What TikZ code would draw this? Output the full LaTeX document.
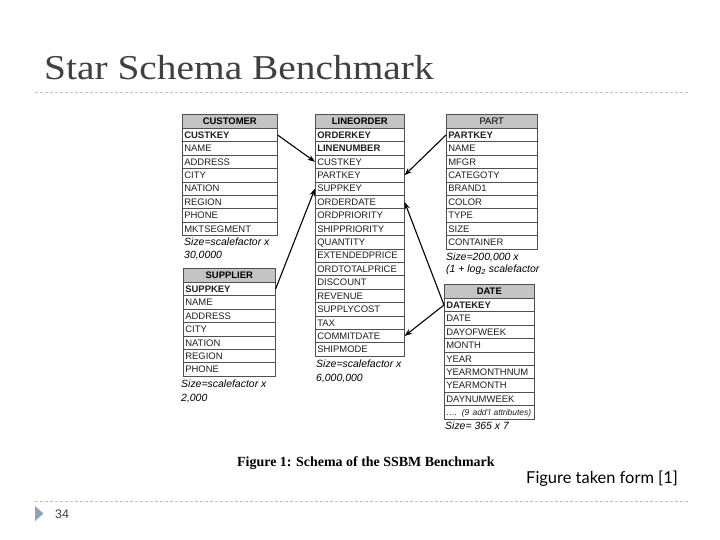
\documentclass[tikz,border=0pt]{standalone}
\usepackage{fontspec}
\setmainfont{Liberation Sans}
\newfontfamily\serifT{Liberation Serif}
\newfontfamily\gill{Lato}
\usetikzlibrary{arrows.meta}
\definecolor{titlegray}{HTML}{404040}
\definecolor{rulegray}{HTML}{C0C0C0}
\definecolor{hdrgray}{HTML}{C4C4C4}
\definecolor{bulletblue}{HTML}{8EA2BC}
\definecolor{boxline}{HTML}{505050}
\definecolor{txtgray}{HTML}{202020}

\tikzset{
 hdr/.style={draw=boxline, fill=hdrgray, line width=0.6bp, anchor=north west,
   minimum height=14bp, inner xsep=2bp, inner ysep=0pt, text height=6.8bp, text depth=0pt,
   align=center, font=\fontsize{9.5}{11}\selectfont\bfseries},
 rowbox/.style={draw=boxline, fill=white, line width=0.6bp, anchor=north west,
   minimum height=13.4bp, inner xsep=2bp, inner ysep=0pt, text height=6.8bp, text depth=0pt,
   align=left, text=txtgray, font=\fontsize{9.5}{11}\selectfont},
 sizetxt/.style={anchor=base west, inner sep=0pt, align=left, font=\fontsize{10.5}{14}\selectfont\itshape},
 fk/.style={-{Stealth[length=7.5bp,width=5.5bp]}, line width=1.1bp, black},
 sliderule/.style={draw=rulegray, dash pattern=on 3bp off 2bp, line width=0.8bp},
}

\newcommand{\dbtable}[6]{%
  \pgfmathsetmacro{\tw}{#4-4}%
  \node[hdr, minimum width=#4bp, text width=\tw bp] (#1-head) at (#2,#3) {#5};
  \foreach \k/\t [count=\i from 0] in {#6}{%
    \node[rowbox, minimum width=#4bp, text width=\tw bp] (#1-\k) at (#2,{#3+14+\i*13.4}) {\t};
  }%
}

\begin{document}
\begin{tikzpicture}[x=1bp, y=-1bp]
\useasboundingbox (0,0) rectangle (720,540);
\fill[white] (0,0) rectangle (720,540);

% title and rules
\node[anchor=base west, inner sep=0pt, text=titlegray] (title) at (44,80)
  {\serifT\fontsize{35}{40}\selectfont\scalebox{1.13}[1]{Star Schema Benchmark}};
\coordinate (r1a) at (35,92); \coordinate (r1b) at (688,92);
\draw[sliderule] (r1a) -- (r1b);
\coordinate (r2a) at (35,501); \coordinate (r2b) at (688,501);
\draw[sliderule] (r2a) -- (r2b);

% tables
\dbtable{cu}{182}{114}{95}{CUSTOMER}{custkey/\textbf{CUSTKEY}, name/NAME, address/ADDRESS, city/CITY, nation/NATION, region/REGION, phone/PHONE, mktsegment/MKTSEGMENT}
\dbtable{lo}{315}{114}{89}{LINEORDER}{orderkey/\textbf{ORDERKEY}, linenumber/\textbf{LINENUMBER}, custkey/CUSTKEY, partkey/PARTKEY, suppkey/SUPPKEY, orderdate/ORDERDATE, ordpriority/ORDPRIORITY, shippriority/SHIPPRIORITY, quantity/QUANTITY, extendedprice/EXTENDEDPRICE, ordtotalprice/ORDTOTALPRICE, discount/DISCOUNT, revenue/REVENUE, supplycost/SUPPLYCOST, tax/TAX, commitdate/COMMITDATE, shipmode/SHIPMODE}
\dbtable{pa}{446}{114}{91}{\mdseries PART}{partkey/\textbf{PARTKEY}, name/NAME, mfgr/MFGR, categoty/CATEGOTY, brand1/BRAND1, color/COLOR, type/TYPE, size/SIZE, container/CONTAINER}
\dbtable{su}{183}{268}{92}{SUPPLIER}{suppkey/\textbf{SUPPKEY}, name/NAME, address/ADDRESS, city/CITY, nation/NATION, region/REGION, phone/PHONE}
\dbtable{da}{444}{284}{90}{DATE}{datekey/\textbf{DATEKEY}, date/DATE, dayofweek/DAYOFWEEK, month/MONTH, year/YEAR, yearmonthnum/YEARMONTHNUM, yearmonth/YEARMONTH, daynumweek/DAYNUMWEEK, more/{\itshape\fontsize{8.5}{10}\selectfont …. (9 add’l attributes)}}

% size notes (anchor = baseline of last line)
\node[sizetxt] (cu-size) at (184,259) {Size=scalefactor x\\30,0000};
\node[sizetxt] (lo-size) at (316,381) {Size=scalefactor x\\6,000,000};
\node[sizetxt, font=\fontsize{10.5}{12.5}\selectfont\itshape] (pa-size) at (446,273) {Size=200,000 x\\(1 + log\textsubscript{2} scalefactor};
\node[sizetxt] (su-size) at (181,401) {Size=scalefactor x\\2,000};
\node[sizetxt] (da-size) at (445,429) {Size= 365 x 7};

% foreign keys
\draw[fk] (cu-custkey.east) -- (lo-custkey.west);
\draw[fk] (su-suppkey.east) -- (lo-suppkey.west);
\draw[fk] (pa-partkey.west) -- (lo-partkey.east);
\draw[fk] (da-datekey.west) -- (lo-orderdate.east);
\draw[fk] (da-datekey.west) -- (lo-commitdate.east);

% captions
\node[anchor=base west, inner sep=0pt] (caption) at (237,466)
  {\serifT\bfseries\fontsize{14}{16}\selectfont Figure 1: Schema of the SSBM Benchmark};
\node[anchor=base east, inner sep=0pt] (source) at (678,483)
  {\gill\fontsize{16.5}{19}\selectfont Figure taken form [1]};

% footer
\fill[bulletblue] (35,506) -- (43.5,513.5) -- (35,521) -- cycle;
\node[anchor=base west, inner sep=0pt, text=titlegray] (pagenum) at (55,518)
  {\fontsize{12.5}{14}\selectfont 34};
\end{tikzpicture}
\end{document}
